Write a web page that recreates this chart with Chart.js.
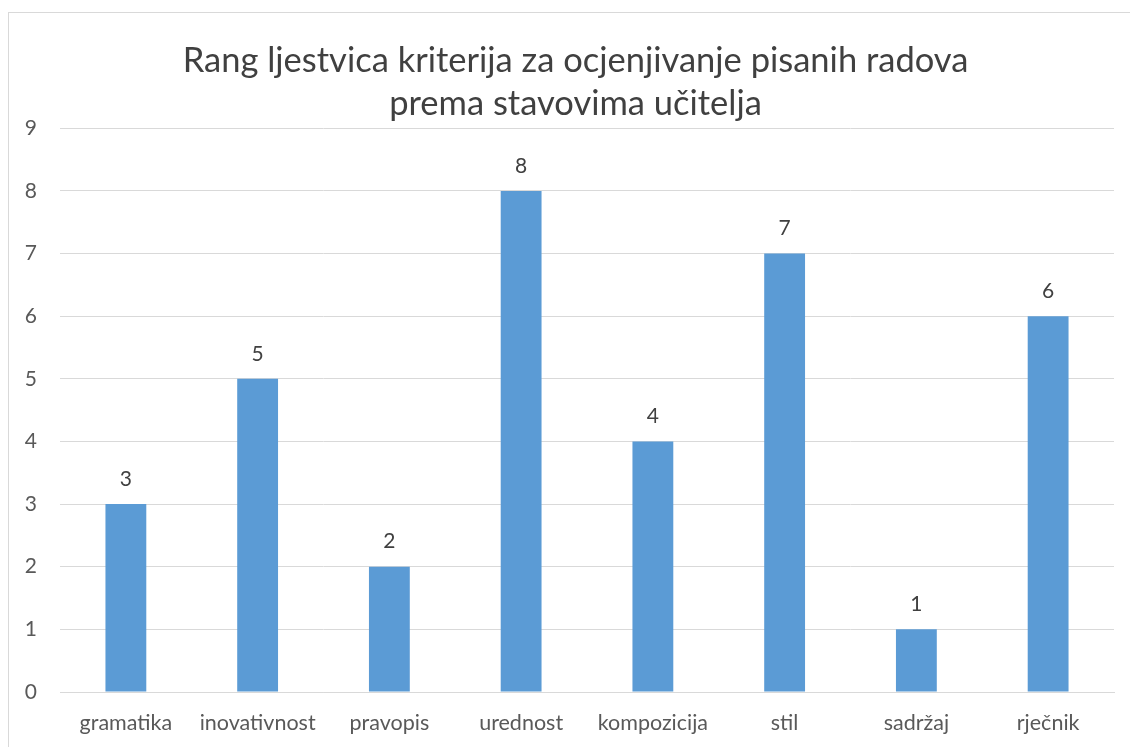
<!DOCTYPE html>
<html>
<head>
<meta charset="utf-8">
<script src="https://cdn.jsdelivr.net/npm/chart.js@4/dist/chart.umd.min.js"></script>
<style>
  html, body { margin: 0; padding: 0; background: #fff; overflow: hidden; width: 1130px; height: 747px; }
  #frame { position: absolute; left: 8px; top: 12px; width: 1200px; height: 800px; border: 1px solid #d9d9d9; }
  /* the original chart frame runs past the right edge of the picture */
  #wrap { position: absolute; left: 0; top: 0; width: 1151px; height: 747px; }
</style>
</head>
<body>
<div id="frame"></div>
<div id="wrap"><canvas id="myChart"></canvas></div>
<script>
const categories = ['gramatika', 'inovativnost', 'pravopis', 'urednost', 'kompozicija', 'stil', 'sadržaj', 'rječnik'];
const rankValues = [3, 5, 2, 8, 4, 7, 1, 6];
const titleLines = ['Rang ljestvica kriterija za ocjenjivanje pisanih radova', 'prema stavovima učitelja'];

const FONT = 'Lato, "Open Sans", sans-serif';

// draws the value above each bar
const valueLabels = {
    id: 'valueLabels',
    afterDatasetsDraw(chart) {
        const ctx = chart.ctx;
        const meta = chart.getDatasetMeta(0);
        ctx.save();
        ctx.font = '21px ' + FONT;
        ctx.fillStyle = '#404040';
        ctx.textAlign = 'center';
        ctx.textBaseline = 'middle';
        meta.data.forEach((bar, i) => {
            ctx.fillText(String(rankValues[i]), bar.x, bar.y - 25);
        });
        ctx.restore();
    }
};

const ctx = document.getElementById('myChart');

new Chart(ctx, {
    type: 'bar',
    data: {
        labels: categories,
        datasets: [{
            data: rankValues,
            backgroundColor: '#5b9bd5',
            borderWidth: 0,
            categoryPercentage: 1,
            barPercentage: 0.31
        }]
    },
    options: {
        responsive: true,
        maintainAspectRatio: false,
        animation: false,
        layout: { padding: 0 },
        scales: {
            y: {
                min: 0,
                max: 9,
                ticks: {
                    stepSize: 1,
                    color: '#595959',
                    font: { family: FONT, size: 21 },
                    padding: 23
                },
                grid: { color: '#d9d9d9', lineWidth: 1, drawTicks: false },
                border: { display: false },
                afterFit(scale) { scale.width = 60; }
            },
            // empty spacer on the right so the plot ends where the original does
            spacer: {
                position: 'right',
                min: 0,
                max: 1,
                ticks: { display: false },
                grid: { display: false, drawTicks: false },
                border: { display: false },
                afterFit(scale) { scale.width = 37; }
            },
            x: {
                ticks: {
                    color: '#595959',
                    font: { family: FONT, size: 21.5 },
                    padding: 18,
                    maxRotation: 0,
                    autoSkip: false
                },
                grid: { display: false, drawTicks: false },
                border: { display: true, color: '#d9d9d9', width: 1 },
                afterFit(scale) { scale.height = 55; }
            }
        },
        plugins: {
            legend: { display: false },
            tooltip: { enabled: false },
            title: {
                display: true,
                text: titleLines,
                color: '#404040',
                font: { family: FONT, size: 34.5, weight: 'normal', lineHeight: 1.25 },
                padding: { top: 39, bottom: 3 }
            }
        }
    },
    plugins: [valueLabels]
});
</script>
</body>
</html>
